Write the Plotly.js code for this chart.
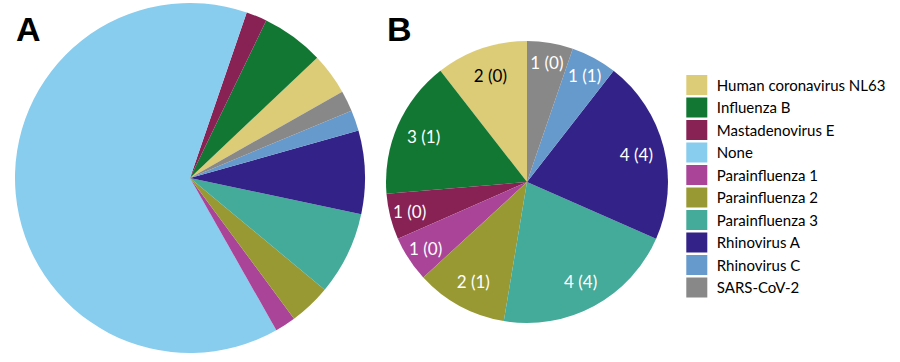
<!DOCTYPE html>
<html>
<head>
<meta charset="utf-8">
<script src="https://cdn.plot.ly/plotly-3.0.1.min.js"></script>
<style>html,body{margin:0;padding:0;background:#fff;}#chart{width:900px;height:362px;}</style>
</head>
<body>
<div id="chart"></div>
<script>
// Categories (legend order)
const categories = ["Human coronavirus NL63", "Influenza B", "Mastadenovirus E", "None",
  "Parainfluenza 1", "Parainfluenza 2", "Parainfluenza 3", "Rhinovirus A", "Rhinovirus C", "SARS-CoV-2"];
const colors = ["#DDCC77", "#117733", "#882255", "#88CCEE", "#AA4499", "#999933", "#44AA99", "#332288", "#6699CC", "#888888"];

// Panel A: all patients
const valuesA = [2, 3, 1, 33, 1, 2, 4, 4, 1, 1];

// Panel B: detected viruses (no "None")
const categoriesB = ["Human coronavirus NL63", "Influenza B", "Mastadenovirus E",
  "Parainfluenza 1", "Parainfluenza 2", "Parainfluenza 3", "Rhinovirus A", "Rhinovirus C", "SARS-CoV-2"];
const valuesB = [2, 3, 1, 1, 2, 4, 4, 1, 1];
const subValuesB = [0, 1, 0, 0, 1, 4, 4, 1, 0];

const colorOf = {};
categories.forEach((c, i) => colorOf[c] = colors[i]);

function sum(a) { return a.reduce((s, v) => s + v, 0); }
const rotA = 46.6;
const rotB = -valuesB[0] / sum(valuesB) * 360;

const textB = valuesB.map((v, i) => v + " (" + subValuesB[i] + ")");
const textColorsB = categoriesB.map(c => c === "Human coronavirus NL63" ? "#000000" : "#ffffff");

const domainB = { x: [386 / 900, 668 / 900], y: [38 / 362, 322 / 362] };

const traceA = {
  type: "pie",
  labels: categories,
  values: valuesA,
  marker: { colors: categories.map(c => colorOf[c]), line: { width: 0 } },
  sort: false,
  direction: "counterclockwise",
  rotation: rotA,
  textinfo: "none",
  hoverinfo: "label+value",
  domain: { x: [15 / 900, 365 / 900], y: [9 / 362, 359 / 362] },
  showlegend: true
};

const traceB = {
  type: "pie",
  labels: categoriesB,
  values: valuesB,
  marker: { colors: categoriesB.map(c => colorOf[c]), line: { width: 0 } },
  sort: false,
  direction: "counterclockwise",
  rotation: rotB,
  textinfo: "none",
  hoverinfo: "label+value",
  domain: domainB,
  showlegend: true
};

// Same slices again, transparent, with a hole so the labels sit in the outer ring
const traceBLabels = {
  type: "pie",
  labels: categoriesB,
  values: valuesB,
  text: textB,
  hole: 0.6,
  marker: { colors: categoriesB.map(() => "rgba(0,0,0,0)"), line: { width: 0 } },
  sort: false,
  direction: "counterclockwise",
  rotation: rotB,
  textinfo: "text",
  textposition: "inside",
  insidetextorientation: "horizontal",
  insidetextfont: { family: "Lato, sans-serif", size: 17, color: textColorsB },
  hoverinfo: "skip",
  domain: domainB,
  showlegend: false
};

const layout = {
  width: 900,
  height: 362,
  margin: { l: 0, r: 0, t: 0, b: 0 },
  paper_bgcolor: "#ffffff",
  font: { family: "Lato, sans-serif", color: "#000000" },
  uniformtext: { mode: "show", minsize: 17 },
  showlegend: true,
  legend: {
    x: 0.752, xanchor: "left",
    y: 0.81, yanchor: "top",
    font: { family: "Lato, sans-serif", size: 15, color: "#000000" },
    traceorder: "normal",
    itemclick: false
  },
  annotations: [
    { text: "<b>A</b>", x: 14 / 900, y: 1 - 8 / 362, xref: "paper", yref: "paper",
      xanchor: "left", yanchor: "top", showarrow: false,
      font: { family: "Liberation Sans, Arial, sans-serif", size: 34, color: "#000000" } },
    { text: "<b>B</b>", x: 385 / 900, y: 1 - 8 / 362, xref: "paper", yref: "paper",
      xanchor: "left", yanchor: "top", showarrow: false,
      font: { family: "Liberation Sans, Arial, sans-serif", size: 34, color: "#000000" } }
  ]
};

Plotly.newPlot("chart", [traceA, traceB, traceBLabels], layout, { staticPlot: true }).then(function () {
  // enlarge the legend colour boxes to match the reference
  document.querySelectorAll(".legendpoints path.legendpie").forEach(function (p) {
    p.setAttribute("d", "M10.5,10H-10.5V-10H10.5Z");
    p.style.strokeWidth = "0px";
  });
});
</script>
</body>
</html>
